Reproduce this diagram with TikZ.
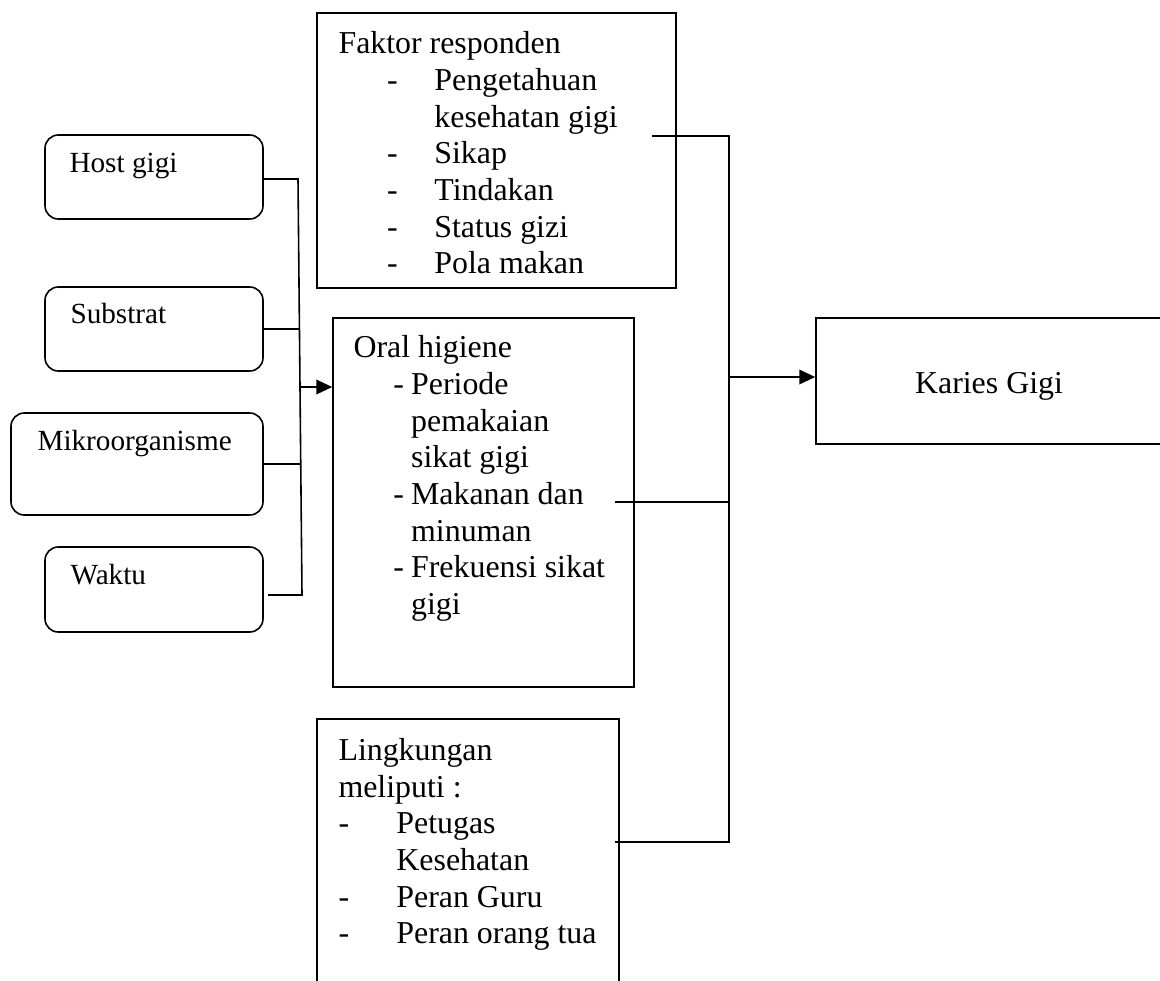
\documentclass[tikz,border=0pt]{standalone}
\usepackage{fontspec}
\setmainfont{Liberation Serif}
\usetikzlibrary{arrows.meta, fit, positioning}

\newcommand{\itemdash}[2]{\makebox[#2][l]{\hspace*{#1}-}}
\newcommand{\itemgap}[1]{\hspace*{#1}}

\tikzset{
  box/.style={draw, line width=0.6pt, inner sep=0pt},
  rbox/.style={box, rounded corners=5pt},
  txt/.style={anchor=north west, inner sep=0pt, align=left, font=\fontsize{12}{13.8}\selectfont},
  stxt/.style={txt, font=\fontsize{11}{12.65}\selectfont},
  link/.style={line width=0.6pt},
  arr/.style={link, -{Triangle[length=6pt, width=5.5pt]}}
}

\begin{document}
\begin{tikzpicture}[x=0.3765pt, y=-0.3765pt]
    \useasboundingbox (0,0) rectangle (1160,980);

    % left boxes
    \node[rbox, fit={(45,135) (263,219)}] (host) {};
    \node[rbox, fit={(45,287) (263,371)}] (substrat) {};
    \node[rbox, fit={(11,413) (263,515)}] (mikro) {};
    \node[rbox, fit={(45,547) (263,632)}] (waktu) {};
    \node[stxt] (host-t) at (69,148.8) {\strut Host gigi};
    \node[stxt] (substrat-t) at (70,299.8) {\strut Substrat};
    \node[stxt] (mikro-t) at (37,426.5) {\strut Mikroorganisme};
    \node[stxt] (waktu-t) at (70,560.5) {\strut Waktu};

    % middle boxes
    \node[box, fit={(317,13) (676,288)}] (faktor) {};
    \node[txt] (faktor-t) at (338,27.6) {\strut Faktor responden\\
        \itemdash{18.3pt}{36.1pt}Pengetahuan\\
        \itemgap{36.1pt}kesehatan gigi\\
        \itemdash{18.3pt}{36.1pt}Sikap\\
        \itemdash{18.3pt}{36.1pt}Tindakan\\
        \itemdash{18.3pt}{36.1pt}Status gizi\\
        \itemdash{18.3pt}{36.1pt}Pola makan};

    \node[box, fit={(333,318) (634,687)}] (oral) {};
    \node[txt] (oral-t) at (353,331.6) {\strut Oral higiene\\
        \itemdash{15pt}{21.7pt}Periode\\
        \itemgap{21.7pt}pemakaian\\
        \itemgap{21.7pt}sikat gigi\\
        \itemdash{15pt}{21.7pt}Makanan dan\\
        \itemgap{21.7pt}minuman\\
        \itemdash{15pt}{21.7pt}Frekuensi sikat\\
        \itemgap{21.7pt}gigi};

    \node[box, fit={(317,719) (619,990)}] (lingkungan) {};
    \node[txt] (lingkungan-t) at (338,734.3) {\strut Lingkungan\\
        meliputi :\\
        \itemdash{0pt}{21.8pt}Petugas\\
        \itemgap{21.8pt}Kesehatan\\
        \itemdash{0pt}{21.8pt}Peran Guru\\
        \itemdash{0pt}{21.8pt}Peran orang tua};

    % result
    \node[box, fit={(816,318) (1163,444)}] (karies) {};
    \node[anchor=base, inner sep=0pt, font=\fontsize{12}{13.8}\selectfont] (karies-t) at (989,393) {Karies Gigi};

    % left bus
    \coordinate (lbus-top) at (298,179);
    \coordinate (lbus-bot) at (302,595);
    \coordinate (lbus-out) at (300,387);
    \coordinate (waktu-in) at (268,595);
    \draw[link] (host.east |- lbus-top) -- (lbus-top) -- (lbus-bot) -- (waktu-in);
    \draw[link] (substrat.east) -- ++(36,0);
    \draw[link] (mikro.east) -- ++(36,0);
    \draw[arr] (lbus-out) -- (lbus-out -| oral.west);

    % right bus
    \coordinate (faktor-out) at (652,136);
    \coordinate (oral-out) at (615,502);
    \coordinate (lingkungan-out) at (615,842);
    \coordinate (rbus-top) at (729,136);
    \coordinate (rbus-bot) at (729,842);
    \coordinate (rbus-mid) at (729,377);
    \draw[link] (faktor-out) -- (rbus-top) -- (rbus-bot) -- (lingkungan-out);
    \draw[link] (oral-out) -- (oral-out -| rbus-top);
    \draw[arr] (rbus-mid) -- (rbus-mid -| karies.west);
\end{tikzpicture}
\end{document}
